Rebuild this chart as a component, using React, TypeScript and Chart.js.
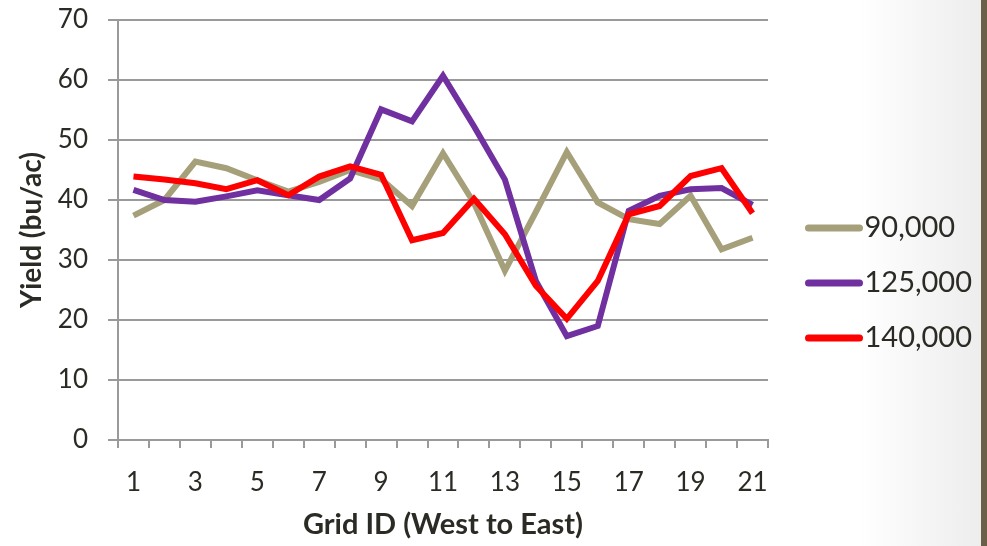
import React, { useEffect, useRef } from 'react';
import { Chart, registerables } from 'chart.js';

Chart.register(...registerables);

const categories = ['1','2','3','4','5','6','7','8','9','10','11','12','13','14','15','16','17','18','19','20','21'];
const seriesNames = ['90,000', '125,000', '140,000'];
const values90 = [37.4, 40, 46.4, 45.3, 43.3, 41.4, 43, 45, 43.5, 39, 47.8, 39.5, 28.2, 38, 48, 39.6, 36.8, 36, 40.7, 31.8, 33.7];
const values125 = [41.7, 40, 39.7, 40.6, 41.6, 40.8, 40, 43.6, 55.1, 53.1, 60.7, 52.3, 43.4, 26.5, 17.3, 19, 38.2, 40.7, 41.8, 42, 39.2];
const values140 = [43.9, 43.4, 42.8, 41.8, 43.3, 40.8, 43.9, 45.6, 44.2, 33.3, 34.5, 40.2, 34.3, 25.7, 20.2, 26.5, 37.6, 39, 44, 45.3, 37.8];
const yTicks = [0, 10, 20, 30, 40, 50, 60, 70];

const colors = ['#a5a07a', '#7030a0', '#ff0000'];
const textColor = '#2b2a24';
const gridColor = '#9a9a9a';

function legendSwatch(color: string): HTMLCanvasElement {
  const c = document.createElement('canvas');
  c.width = 82;
  c.height = 8;
  const ctx = c.getContext('2d')!;
  ctx.strokeStyle = color;
  ctx.lineWidth = 7;
  ctx.lineCap = 'round';
  ctx.beginPath();
  ctx.moveTo(27.5, 4);
  ctx.lineTo(78.5, 4);
  ctx.stroke();
  return c;
}

export default function App() {
  const ref = useRef<HTMLCanvasElement>(null);
  useEffect(() => {
    document.body.style.margin = '0';
    const series = [values90, values125, values140];
    const swatches = colors.map(legendSwatch);
    const chart = new Chart(ref.current!, {
      type: 'line',
      data: {
        labels: categories,
        datasets: series.map((vals, i) => ({
          label: seriesNames[i],
          data: vals,
          borderColor: colors[i],
          backgroundColor: colors[i],
          borderWidth: 6,
          pointRadius: 0,
          tension: 0,
          fill: false,
          borderJoinStyle: 'miter' as const,
          order: 3 - i,
        })),
      },
      options: {
        responsive: false,
        animation: false,
        layout: { padding: { left: 0, right: 5, top: 20, bottom: 0 } },
        plugins: {
          tooltip: { enabled: false },
          legend: {
            position: 'right',
            labels: {
              usePointStyle: true,
              pointStyleWidth: 56,
              boxHeight: 8,
              padding: 26,
              color: textColor,
              font: { family: 'Lato', size: 29 },
              sort: (a: any, b: any) => a.datasetIndex - b.datasetIndex,
              generateLabels: (c: any) =>
                Chart.defaults.plugins.legend.labels
                  .generateLabels(c)
                  .map((l: any) => ({ ...l, lineWidth: 0, pointStyle: swatches[l.datasetIndex] })),
            },
          },
        },
        scales: {
          x: {
            offset: true,
            afterFit: (scale: any) => { scale.height = 106; },
            grid: { display: true, drawOnChartArea: false, drawTicks: true, tickLength: 8, offset: true, color: gridColor, lineWidth: 2 },
            border: { display: true, color: gridColor, width: 2 },
            ticks: {
              autoSkip: false,
              maxRotation: 0,
              padding: 19,
              color: textColor,
              font: { family: 'Lato', size: 26 },
              callback: (_v: any, idx: number) => (idx % 2 === 0 ? categories[idx] : ''),
            },
            title: {
              display: true,
              text: 'Grid ID (West to East)',
              color: textColor,
              font: { family: 'Lato', size: 29, weight: 'bold' },
              padding: { top: 4, bottom: 4 },
            },
          },
          y: {
            min: 0,
            max: 70,
            afterFit: (scale: any) => { scale.width = 118; scale.paddingTop = 0; },
            afterBuildTicks: (axis: any) => { axis.ticks = yTicks.map((v) => ({ value: v })); },
            grid: { color: gridColor, lineWidth: 2, tickLength: 10, drawTicks: true },
            border: { display: true, color: gridColor, width: 2 },
            ticks: {
              padding: 20,
              color: textColor,
              font: { family: 'Lato', size: 26 },
            },
            title: {
              display: true,
              text: 'Yield (bu/ac)',
              color: textColor,
              font: { family: 'Lato', size: 28, weight: 'bold' },
              padding: { top: 15, bottom: 15 },
            },
          },
        },
      },
    });
    return () => chart.destroy();
  }, []);
  return (
    <div
      style={{
        position: 'fixed',
        left: 0,
        top: 0,
        width: 987,
        height: 546,
        background:
          'linear-gradient(to right, #ffffff 0px, #ffffff 860px, #ededed 981px, #6b5f4a 981px, #6b5f4a 987px)',
      }}
    >
      <canvas ref={ref} width={987} height={546} style={{ display: 'block', width: 987, height: 546 }} />
    </div>
  );
}
